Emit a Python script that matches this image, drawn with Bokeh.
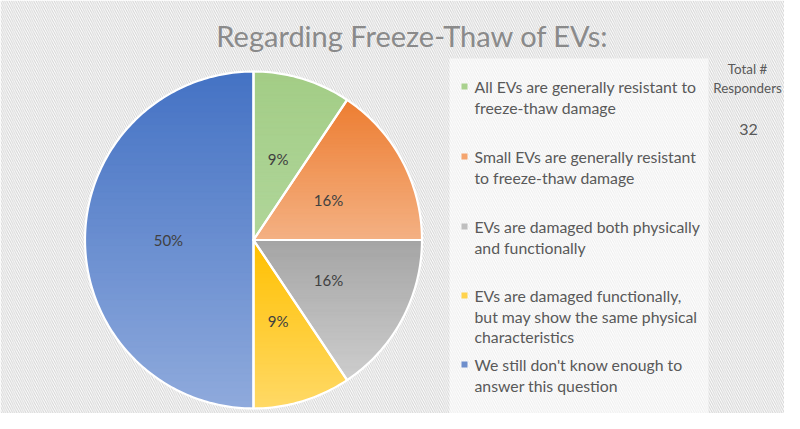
import numpy as np
from bokeh.plotting import figure
from bokeh.models import Range1d
from bokeh.core.properties import value
from bokeh.embed import file_html
from bokeh.resources import INLINE

# ---------------- data ----------------
title_text = "Regarding Freeze-Thaw of EVs:"
category_lines = [
    ["All EVs are generally resistant to", "freeze-thaw damage"],
    ["Small EVs are generally resistant", "to freeze-thaw damage"],
    ["EVs are damaged both physically", "and functionally"],
    ["EVs are damaged functionally,", "but may show the same physical", "characteristics"],
    ["We still don't know enough to", "answer this question"],
]
counts = [3, 5, 5, 3, 16]
total_label_lines = ["Total #", "Responders"]
total_responders = 32

# ---------------- style ----------------
top_colors = ["#A3CD86", "#ED7D31", "#A5A5A5", "#FFC000", "#4472C4"]
bottom_colors = ["#B0D69A", "#F4B183", "#CDCDCD", "#FFD966", "#8FAADC"]
marker_colors = ["#A9D18E", "#F4A46E", "#BFBFBF", "#FFD34D", "#6F8FCC"]
FONT = "Lato"

W, H = 784, 413
p = figure(width=W, height=H, x_range=Range1d(0, 784), y_range=Range1d(413, 0),
           toolbar_location=None, output_backend="svg", min_border=0,
           x_axis_type=None, y_axis_type=None)
p.grid.visible = False
p.outline_line_color = None
p.background_fill_color = "white"
p.border_fill_color = "white"

# hatched background
p.quad(left=[0], right=[784], top=[0], bottom=[413], fill_color="white",
       line_color=None, hatch_pattern="left_diagonal_line", hatch_color="#d2d2d2",
       hatch_scale=4.5, hatch_weight=1)

# light legend panel
p.quad(left=[449], right=[708], top=[58], bottom=[413], fill_color="white",
       fill_alpha=0.6, line_color=None)

# ---------------- pie ----------------
cx, cy, R = 253.0, 239.5, 168.5
total = float(sum(counts))
fracs = np.array(counts) / total
ends = np.cumsum(fracs) * 2 * np.pi
starts = np.concatenate([[0.0], ends[:-1]])


def pt(theta, r):
    return cx + r * np.sin(theta), cy - r * np.cos(theta)


def wedge_poly(a0, a1):
    n = max(3, int((a1 - a0) / (2 * np.pi) * 360))
    th = np.linspace(a0, a1, n)
    xs = [cx] + list(cx + R * np.sin(th))
    ys = [cy] + list(cy - R * np.cos(th))
    return list(zip(xs, ys))


def clip_half(poly, yv, keep_greater):
    out = []
    n = len(poly)
    for i in range(n):
        a = poly[i]
        b = poly[(i + 1) % n]
        ina = a[1] >= yv if keep_greater else a[1] <= yv
        inb = b[1] >= yv if keep_greater else b[1] <= yv
        if ina:
            out.append(a)
        if ina != inb:
            t = (yv - a[1]) / (b[1] - a[1])
            out.append((a[0] + t * (b[0] - a[0]), yv))
    return out


def hex2rgb(h):
    h = h.lstrip("#")
    return np.array([int(h[i:i + 2], 16) for i in (0, 2, 4)], dtype=float)


def rgb2hex(c):
    c = np.clip(np.round(c), 0, 255).astype(int)
    return "#%02x%02x%02x" % tuple(c)


for i in range(len(counts)):
    poly = wedge_poly(starts[i], ends[i])
    ys_all = [q[1] for q in poly]
    y0, y1 = min(ys_all), max(ys_all)
    nb = 50
    edges = np.linspace(y0, y1, nb + 1)
    c0, c1 = hex2rgb(top_colors[i]), hex2rgb(bottom_colors[i])
    bx, by, bc = [], [], []
    for k in range(nb):
        a = clip_half(poly, edges[k] - 0.4, True)
        a = clip_half(a, edges[k + 1] + 0.4, False)
        if len(a) < 3:
            continue
        t = (k + 0.5) / nb
        bx.append([q[0] for q in a])
        by.append([q[1] for q in a])
        bc.append(rgb2hex(c0 + (c1 - c0) * t))
    p.patches(xs=bx, ys=by, fill_color=bc, line_color=bc, line_width=0.6)

# white slice borders
for i in range(len(counts)):
    poly = wedge_poly(starts[i], ends[i])
    p.patch(x=[q[0] for q in poly], y=[q[1] for q in poly], fill_color=None,
            line_color="white", line_width=2.2, line_join="round")

# percentage labels
mids = (starts + ends) / 2
lx = [pt(m, 0.505 * R)[0] for m in mids]
ly = [pt(m, 0.505 * R)[1] for m in mids]
pct = ["%d%%" % round(f * 100) for f in fracs]
p.text(x=lx, y=ly, text=pct, text_align="center", text_baseline="middle",
       text_font=value(FONT), text_font_size="15px", text_color="#404040")

# ---------------- title ----------------
p.text(x=[412], y=[35], text=[title_text], text_align="center", text_baseline="middle",
       text_font=value(FONT), text_font_size="29px", text_color="#8a8a8a")

# ---------------- legend ----------------
first_y = [86, 156, 226, 295, 364]
line_h = 20.6
tx, ty, tt = [], [], []
for i, lines in enumerate(category_lines):
    for j, s in enumerate(lines):
        tx.append(474)
        ty.append(first_y[i] + j * line_h)
        tt.append(s)
p.text(x=tx, y=ty, text=tt, text_align="left", text_baseline="middle",
       text_font=value(FONT), text_font_size="15.8px", text_color="#595959")
p.scatter(x=[464] * len(counts), y=first_y, marker="square", size=6,
          fill_color=marker_colors, line_color=None)

# total responders
p.text(x=[747, 747], y=[68, 87], text=total_label_lines, text_align="center",
       text_baseline="middle", text_font=value(FONT), text_font_size="13.4px",
       text_color="#595959")
p.text(x=[748], y=[129], text=[str(total_responders)], text_align="center",
       text_baseline="middle", text_font=value(FONT), text_font_size="16px",
       text_color="#595959")

open("out.html", "w").write(file_html(p, INLINE))
